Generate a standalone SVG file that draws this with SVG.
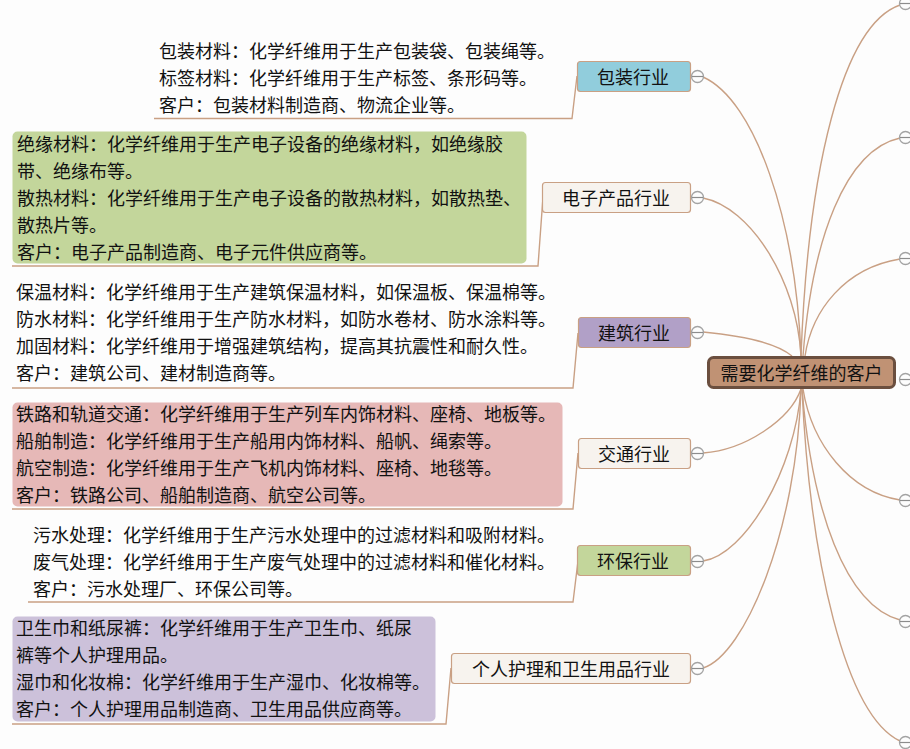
<svg xmlns="http://www.w3.org/2000/svg" width="910" height="749" viewBox="0 0 910 749">
<style>
text{font-family:"Noto Sans CJK SC","Liberation Sans",sans-serif;font-size:18px;fill:#111}
.c{fill:none;stroke:#c9a084;stroke-width:1.4}
.n{stroke:#c9a084;stroke-width:1.2}
.t{text-anchor:middle}
.k{fill:#fdfdfd;stroke:#a3a3a3;stroke-width:1.3}
.m{stroke:#8c8c8c;stroke-width:1.2}
</style>
<rect width="910" height="749" fill="#fdfdfd"/>
<g id="connectors">
<path class="c" d="M801 356C796 220 755 100 703 77"/>
<path class="c" d="M801 356C797 280 750 207 703 198"/>
<path class="c" d="M792 356C775 342 735 335 703 332"/>
<path class="c" d="M801 389C790 420 745 450 703 453"/>
<path class="c" d="M801 389C795 470 745 555 703 561"/>
<path class="c" d="M801 389C797 530 745 655 703 668"/>
<path class="c" d="M801 356C808 170 842 25 900 5"/>
<path class="c" d="M803 356C812 240 845 150 900 138"/>
<path class="c" d="M805 356C812 310 845 268 900 259"/>
<path class="c" d="M803 389C812 445 850 492 900 500"/>
<path class="c" d="M802 389C812 510 845 605 900 620"/>
<path class="c" d="M802 389C810 560 845 715 900 741"/>
<path class="c" d="M154 118.500H572L577 76"/>
<path class="c" d="M12 266H538L543 197"/>
<path class="c" d="M12 388H573L578 333"/>
<path class="c" d="M12 509H573L578 453"/>
<path class="c" d="M28 602H573L578 561"/>
<path class="c" d="M12 724H446L451 668"/>
</g>
<g id="root"><rect x="708.500" y="357.500" width="186" height="30" rx="5" fill="#c09274" stroke="#6b4f3f" stroke-width="3"/><text class="t" x="801.500" y="380">需要化学纤维的客户</text></g>
<g id="n1"><rect class="n" x="577.500" y="61.500" width="113" height="30" rx="3" fill="#91cddc"/><text class="t" x="633" y="84">包装行业</text><circle class="k" cx="697.500" cy="76.500" r="6"/><path class="m" d="M692 76.500H703"/></g>
<g id="n2"><rect class="n" x="542.500" y="182.500" width="148" height="30" rx="3" fill="#f7f3ee"/><text class="t" x="616" y="205">电子产品行业</text><circle class="k" cx="697.500" cy="197.500" r="6"/><path class="m" d="M692 197.500H703"/></g>
<g id="n3"><rect class="n" x="578.500" y="317.500" width="112" height="30" rx="3" fill="#b1a0c7"/><text class="t" x="634" y="340">建筑行业</text><circle class="k" cx="697.500" cy="332.500" r="6"/><path class="m" d="M692 332.500H703"/></g>
<g id="n4"><rect class="n" x="578.500" y="438.500" width="112" height="30" rx="3" fill="#f7f3ee"/><text class="t" x="634" y="461">交通行业</text><circle class="k" cx="697.500" cy="453.500" r="6"/><path class="m" d="M692 453.500H703"/></g>
<g id="n5"><rect class="n" x="577.500" y="545.500" width="113" height="30" rx="3" fill="#c3d69b"/><text class="t" x="633" y="568">环保行业</text><circle class="k" cx="697.500" cy="561.500" r="6"/><path class="m" d="M692 561.500H703"/></g>
<g id="n6"><rect class="n" x="451.500" y="653.500" width="239" height="30" rx="3" fill="#f7f3ee"/><text class="t" x="571" y="676">个人护理和卫生用品行业</text><circle class="k" cx="697.500" cy="668.500" r="6"/><path class="m" d="M692 668.500H703"/></g>
<g id="r1"><circle class="k" cx="905.500" cy="3.500" r="6"/><path class="m" d="M900 3.500H911"/></g>
<g id="r2"><circle class="k" cx="905.500" cy="137.500" r="6"/><path class="m" d="M900 137.500H911"/></g>
<g id="r3"><circle class="k" cx="905.500" cy="258.500" r="6"/><path class="m" d="M900 258.500H911"/></g>
<g id="r4"><circle class="k" cx="905.500" cy="379.500" r="6"/><path class="m" d="M900 379.500H911"/></g>
<g id="r5"><circle class="k" cx="905.500" cy="500.500" r="6"/><path class="m" d="M900 500.500H911"/></g>
<g id="r6"><circle class="k" cx="905.500" cy="621.500" r="6"/><path class="m" d="M900 621.500H911"/></g>
<g id="r7"><circle class="k" cx="905.500" cy="742.500" r="6"/><path class="m" d="M900 742.500H911"/></g>
<g id="d1">
<text x="159" y="58">包装材料：化学纤维用于生产包装袋、包装绳等。</text>
<text x="159" y="85">标签材料：化学纤维用于生产标签、条形码等。</text>
<text x="159" y="112">客户：包装材料制造商、物流企业等。</text>
</g>
<g id="d2"><rect x="12.500" y="131.500" width="514" height="132" rx="5" fill="#c3d69b"/>
<text x="17" y="151">绝缘材料：化学纤维用于生产电子设备的绝缘材料，如绝缘胶</text>
<text x="17" y="178">带、绝缘布等。</text>
<text x="17" y="205">散热材料：化学纤维用于生产电子设备的散热材料，如散热垫、</text>
<text x="17" y="232">散热片等。</text>
<text x="17" y="259">客户：电子产品制造商、电子元件供应商等。</text>
</g>
<g id="d3">
<text x="16" y="299">保温材料：化学纤维用于生产建筑保温材料，如保温板、保温棉等。</text>
<text x="16" y="326">防水材料：化学纤维用于生产防水材料，如防水卷材、防水涂料等。</text>
<text x="16" y="353">加固材料：化学纤维用于增强建筑结构，提高其抗震性和耐久性。</text>
<text x="16" y="380">客户：建筑公司、建材制造商等。</text>
</g>
<g id="d4"><rect x="12.500" y="402.500" width="550" height="104" rx="5" fill="#e6b8b7"/>
<text x="16" y="421">铁路和轨道交通：化学纤维用于生产列车内饰材料、座椅、地板等。</text>
<text x="16" y="448">船舶制造：化学纤维用于生产船用内饰材料、船帆、绳索等。</text>
<text x="16" y="475">航空制造：化学纤维用于生产飞机内饰材料、座椅、地毯等。</text>
<text x="16" y="502">客户：铁路公司、船舶制造商、航空公司等。</text>
</g>
<g id="d5">
<text x="33" y="542">污水处理：化学纤维用于生产污水处理中的过滤材料和吸附材料。</text>
<text x="33" y="569">废气处理：化学纤维用于生产废气处理中的过滤材料和催化材料。</text>
<text x="33" y="596">客户：污水处理厂、环保公司等。</text>
</g>
<g id="d6"><rect x="12.500" y="616.500" width="423" height="105" rx="5" fill="#ccc1da"/>
<text x="16" y="635">卫生巾和纸尿裤：化学纤维用于生产卫生巾、纸尿</text>
<text x="16" y="662">裤等个人护理用品。</text>
<text x="16" y="689">湿巾和化妆棉：化学纤维用于生产湿巾、化妆棉等。</text>
<text x="16" y="716">客户：个人护理用品制造商、卫生用品供应商等。</text>
</g>
</svg>
